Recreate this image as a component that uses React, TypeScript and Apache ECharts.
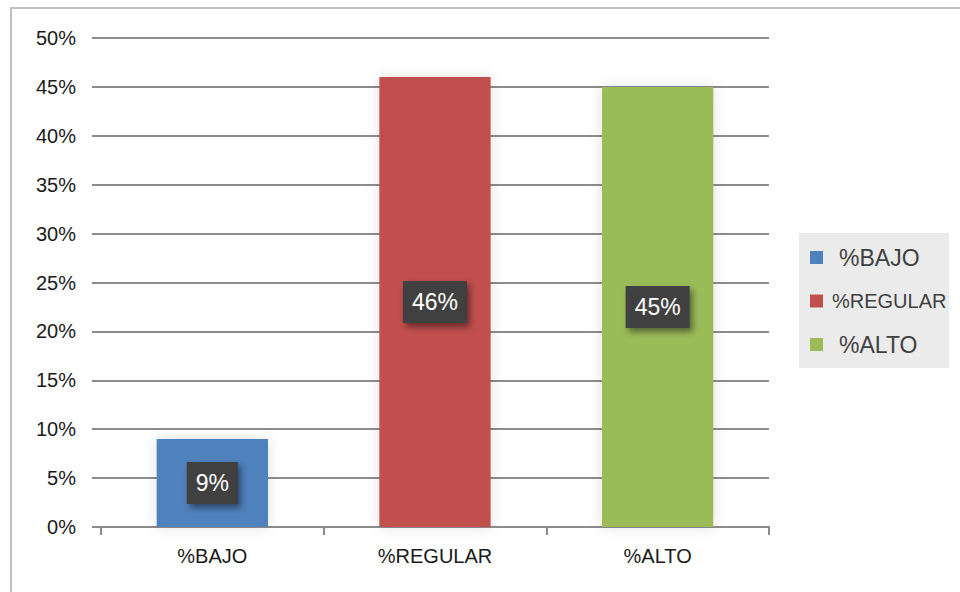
import React, { useEffect, useRef } from "react";
import * as echarts from "echarts";

const categories = ["%BAJO", "%REGULAR", "%ALTO"];
const seriesNames = ["%BAJO", "%REGULAR", "%ALTO"];
const seriesValues = [9, 46, 45];
const seriesColors = ["#4f81bd", "#c0504d", "#9bbb59"];
const yMax = 50;
const yInterval = 5;

export default function App() {
  const ref = useRef<HTMLDivElement>(null);
  useEffect(() => {
    if (!ref.current) return;
    const chart = echarts.init(ref.current, null, { renderer: "svg" });
    const series = seriesNames.map((name, i) => ({
      name,
      type: "bar",
      stack: "total",
      barWidth: "50%",
      data: categories.map((_, j) => (j === i ? seriesValues[i] : "-")),
      itemStyle: {
        color: seriesColors[i],
        shadowBlur: 14,
        shadowColor: "rgba(0,0,0,0.12)",
      },
      label: {
        show: true,
        position: "inside",
        formatter: "{c}%",
        color: "#ffffff",
        fontFamily: "Liberation Sans, Arial, sans-serif",
        fontSize: 23,
        backgroundColor: "#404040",
        padding: [10, 9, 9, 9],
        shadowBlur: 6,
        shadowOffsetX: 3,
        shadowOffsetY: 4,
        shadowColor: "rgba(0,0,0,0.45)",
      },
    }));
    const legendFont = "Liberation Sans, Arial, sans-serif";
    chart.setOption({
      animation: false,
      backgroundColor: "#ffffff",
      graphic: [
        {
          type: "rect",
          shape: { x: 11, y: 8, width: 1000, height: 1000 },
          style: { fill: "none", stroke: "#bfbfbf", lineWidth: 2 },
          z: -10,
        },
        {
          type: "rect",
          shape: { x: 799, y: 233, width: 150, height: 135 },
          style: { fill: "#ebebeb" },
          z: -5,
        },
      ],
      legend: {
        orient: "vertical",
        left: 805,
        top: 241,
        itemWidth: 13,
        itemHeight: 13,
        itemGap: 22,
        icon: "rect",
        data: [
          { name: seriesNames[0], textStyle: { fontSize: 23, padding: [0, 0, 0, 11] } },
          { name: seriesNames[1], textStyle: { fontSize: 20, padding: [0, 0, 0, 4] } },
          { name: seriesNames[2], textStyle: { fontSize: 23, padding: [0, 0, 0, 11] } },
        ],
        textStyle: {
          color: "#404040",
          fontFamily: legendFont,
          fontSize: 23,
        },
      },
      grid: { left: 101, right: 191, top: 38, bottom: 65 },
      xAxis: {
        type: "category",
        data: categories,
        axisLine: { show: true, lineStyle: { color: "#8c8c8c", width: 2 } },
        axisTick: { show: true, length: 8, lineStyle: { color: "#8c8c8c", width: 2 } },
        axisLabel: {
          color: "#1a1a1a",
          fontFamily: "Liberation Sans, Arial, sans-serif",
          fontSize: 20,
          margin: 19,
        },
      },
      yAxis: {
        type: "value",
        min: 0,
        max: yMax,
        interval: yInterval,
        axisLine: { show: false },
        axisTick: { show: true, length: 9, lineStyle: { color: "#8c8c8c", width: 2 } },
        splitLine: { lineStyle: { color: "#8c8c8c", width: 2 } },
        axisLabel: {
          formatter: "{value}%",
          color: "#1a1a1a",
          fontFamily: "Liberation Sans, Arial, sans-serif",
          fontSize: 20,
          margin: 25,
        },
      },
      series,
    });
    return () => chart.dispose();
  }, []);
  return (
    <div
      ref={ref}
      style={{ position: "fixed", left: 0, top: 0, width: 960, height: 592 }}
    />
  );
}
